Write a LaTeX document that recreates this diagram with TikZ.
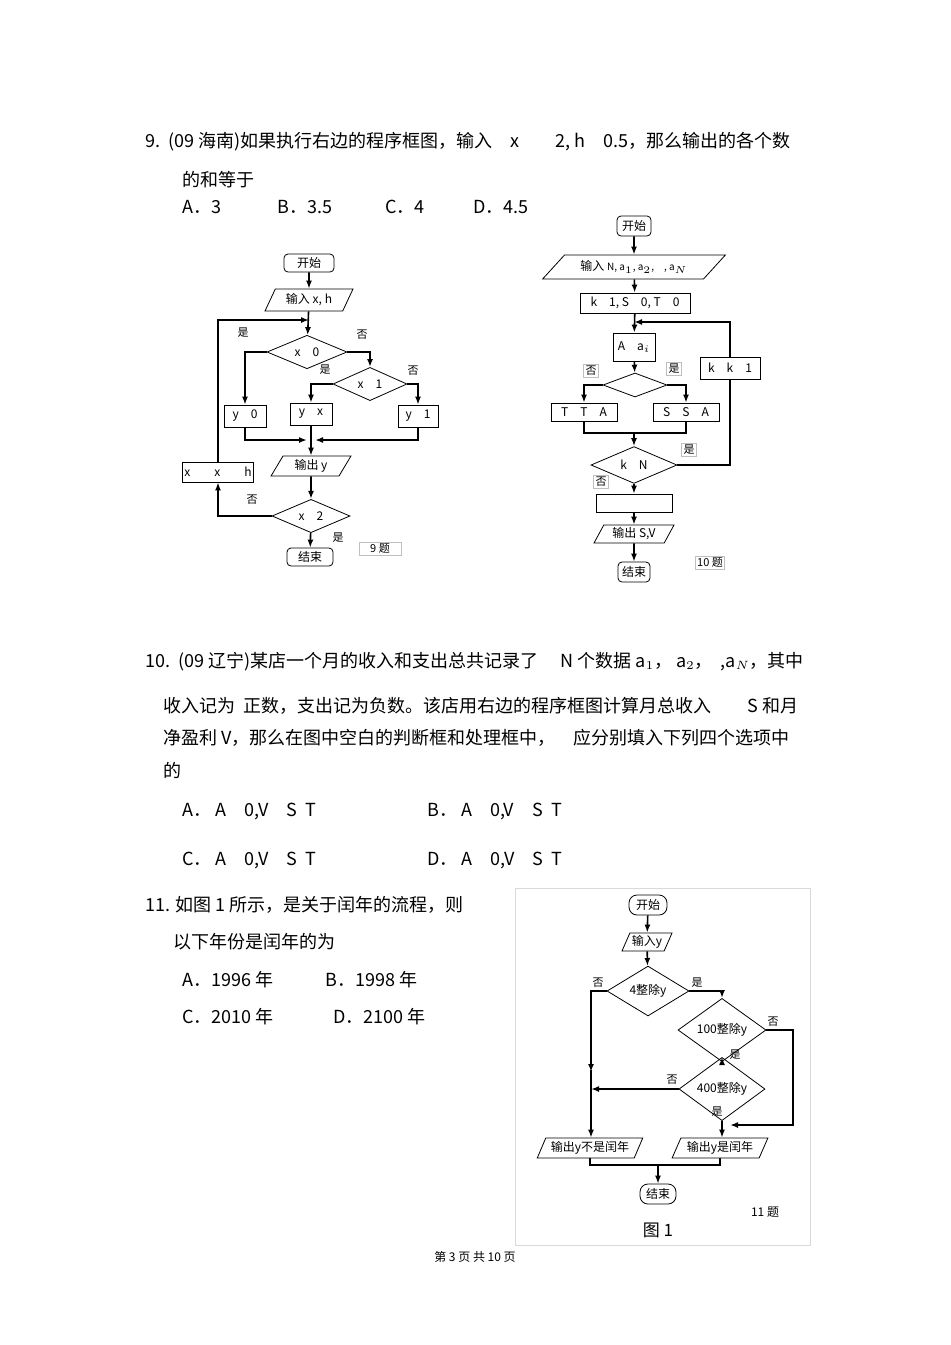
\documentclass[tikz,border=0pt]{standalone}
\usepackage{fontspec}
\setmainfont{Noto Sans CJK SC}
\usetikzlibrary{shapes.geometric,arrows.meta}
\begin{document}
\begin{tikzpicture}[x=0.5pt,y=-0.5pt,
  txt/.style={anchor=west,inner sep=0,font=\fontsize{9}{10}\selectfont},
  fc/.style={font=\fontsize{6}{7}\selectfont,inner sep=1pt},
  term/.style={fc,draw,rounded corners=2pt,minimum height=9pt},
  proc/.style={fc,draw,minimum height=10pt},
  io/.style={fc,draw,trapezium,trapezium left angle=65,trapezium right angle=115,trapezium stretches=true,minimum height=10pt},
  dec/.style={fc,draw,diamond,inner sep=0pt},
  lab/.style={font=\fontsize{5.5}{6}\selectfont,inner sep=1pt},
  labbox/.style={lab,draw=black!25},
  line/.style={thick},
  arr/.style={thick,-{Latex[length=4pt,width=3pt]}}]
\useasboundingbox (0,0) rectangle (950,1345);
\fill[white] (0,0) rectangle (950,1345);
% ---------- Q9 text
\node[txt] (q9a) at (145,142) {9.\ \ (09 海南)如果执行右边的程序框图，输入\quad x\qquad 2, h\quad 0.5，那么输出的各个数};
\node[txt] (q9b) at (182,180) {的和等于};
\node[txt] (q9A) at (182,207) {A．3};
\node[txt] (q9B) at (277,207) {B．3.5};
\node[txt] (q9C) at (385,207) {C．4};
\node[txt] (q9D) at (473,207) {D．4.5};
% ---------- Flowchart 9
\node[term,minimum width=25pt] (s9) at (309,263) {开始};
\node[io,minimum width=44pt,minimum height=11pt] (in9) at (309,300) {输入 x, h};
\coordinate (m9) at (309,320);
\node[dec,minimum width=40pt,minimum height=16pt] (d1) at (307,352) {x\quad 0};
\node[dec,minimum width=37pt,minimum height=15pt] (d2) at (370,384) {x\quad 1};
\node[proc,minimum width=21pt,minimum height=11pt] (y0) at (245,416) {y\quad 0};
\node[proc,minimum width=21pt,minimum height=11pt] (yx) at (311,414) {y\quad x};
\node[proc,minimum width=20pt,minimum height=11pt] (y1) at (418,416) {y\quad 1};
\coordinate (j9) at (311,440);
\node[io,minimum width=40pt] (out9) at (311,466) {输出 y};
\node[dec,minimum width=39pt,minimum height=16pt] (d3) at (311,516) {x\quad 2};
\node[proc,minimum width=31pt,minimum height=10pt] (xh) at (218,472) {x\qquad x\qquad h};
\node[term,minimum width=23pt] (e9) at (310,557) {结束};
\node[labbox,minimum width=21pt] (t9) at (380,549) {9 题};
\draw[arr] (s9) -- (in9);
\draw[arr] (in9) -- (d1);
\draw[arr] (d1.west) -| (y0);
\draw[arr] (d1.east) -| (d2.north);
\draw[arr] (d2.west) -| (yx);
\draw[arr] (d2.east) -| (y1);
\draw[arr] (y0.south) |- ([xshift=-2]j9);
\draw[arr] (y1.south) |- ([xshift=2]j9);
\draw[arr] (yx) -- (out9);
\draw[arr] (out9) -- (d3);
\draw[arr] (d3.west) -| (xh.south);
\draw[arr] (xh.north) |- (m9);
\draw[arr] (d3) -- (e9);
\node[lab] (l1) at (243,333) {是};
\node[lab] (l2) at (362,335) {否};
\node[lab] (l3) at (325,370) {是};
\node[lab] (l4) at (413,371) {否};
\node[lab] (l5) at (252,500) {否};
\node[lab] (l6) at (338,538) {是};
% ---------- Flowchart 10
\node[term,minimum width=17pt,minimum height=10pt] (s10) at (634,226) {开始};
\node[io,minimum width=92pt,minimum height=12pt,trapezium left angle=45,trapezium right angle=135] (in10) at (634,267) {输入 {\fontsize{5}{6}\selectfont N, a$_{1}$, a$_{2}$,\quad , a$_{N}$}};
\node[proc,minimum width=55pt] (ini) at (635,303) {k\quad 1, S\quad 0, T\quad 0};
\node[proc,minimum width=21pt,minimum height=14pt] (aa) at (634,347) {A\quad a$_{i}$};
\node[proc,minimum width=30pt,minimum height=11pt] (kk) at (730,368) {k\quad k\quad 1};
\node[dec,minimum width=32pt,minimum height=12pt] (d4) at (635,385) {};
\node[proc,minimum width=33pt,minimum height=9pt] (tt) at (584,412) {T\quad T\quad A};
\node[proc,minimum width=33pt,minimum height=9pt] (ss) at (686,412) {S\quad S\quad A};
\coordinate (j10) at (634,433);
\node[dec,minimum width=43pt,minimum height=15pt] (d5) at (634,465) {k\quad N};
\node[proc,minimum width=38pt,minimum height=9pt] (blank) at (634,503) {};
\node[io,minimum width=40pt,minimum height=9pt] (out10) at (634,534) {输出 S,V};
\node[term,minimum width=16pt,minimum height=10pt] (e10) at (634,572) {结束};
\node[labbox] (t10) at (710,563) {10 题};
\draw[arr] (s10) -- (in10);
\draw[arr] (in10) -- (ini);
\draw[arr] (ini) -- (aa);
\draw[arr] (aa) -- (d4);
\draw[arr] (d4.west) -| (tt);
\draw[arr] (d4.east) -| (ss);
\draw[line] (tt.south) |- (j10);
\draw[line] (ss.south) |- (j10);
\draw[arr] (j10) -- (d5);
\draw[line] (d5.east) -| (kk.south);
\draw[arr] (kk.north) |- (634,322);
\draw[arr] (d5) -- (blank);
\draw[arr] (blank) -- (out10);
\draw[arr] (out10) -- (e10);
\node[labbox] (l7) at (591,371) {否};
\node[labbox] (l8) at (674,369) {是};
\node[labbox] (l9) at (689,450) {是};
\node[labbox] (l10) at (601,482) {否};
% ---------- Q10 text
\node[txt] (q10a) at (145,662) {10.\ \ (09 辽宁)某店一个月的收入和支出总共记录了\quad\ N 个数据 a$_1$， a$_2$，\ \ ,a$_N$，其中};
\node[txt] (q10b) at (163,706) {收入记为\ \ 正数，支出记为负数。该店用右边的程序框图计算月总收入\qquad S 和月};
\node[txt] (q10c) at (163,738) {净盈利 V，那么在图中空白的判断框和处理框中，\quad 应分别填入下列四个选项中};
\node[txt] (q10d) at (163,770) {的};
\node[txt] (q10A) at (182,811) {A．\ A\quad 0,V\quad S\ \ T};
\node[txt] (q10B) at (427,811) {B．\ A\quad 0,V\quad S\ \ T};
\node[txt] (q10C) at (182,860) {C．\ A\quad 0,V\quad S\ \ T};
\node[txt] (q10D) at (427,860) {D．\ A\quad 0,V\quad S\ \ T};
% ---------- Q11 text
\node[txt] (q11a) at (145,905) {11. 如图 1 所示，是关于闰年的流程，则};
\node[txt] (q11b) at (173,942) {以下年份是闰年的为};
\node[txt] (q11A) at (182,980) {A．1996 年};
\node[txt] (q11B) at (325,980) {B．1998 年};
\node[txt] (q11C) at (182,1017) {C．2010 年};
\node[txt] (q11D) at (333,1017) {D．2100 年};
% ---------- Flowchart 11
\draw[black!15] (515,888) rectangle (810,1245);
\begin{scope}[every node/.append style={font=\fontsize{6}{7}\selectfont\bfseries}]
\node[term,minimum width=19pt,minimum height=10pt,rounded corners=4pt] (s11) at (648,905) {开始};
\node[io,minimum width=24pt,minimum height=9pt] (in11) at (647,942) {输入y};
\node[dec,minimum width=41pt,minimum height=16pt] (e1) at (648,991) {4整除y};
\node[dec,minimum width=44pt,minimum height=18pt] (e2) at (722,1030) {100整除y};
\node[dec,minimum width=43pt,minimum height=18pt] (e3) at (722,1089) {400整除y};
\node[io,minimum width=53pt,minimum height=10pt] (o1) at (590,1148) {输出y不是闰年};
\node[io,minimum width=48pt,minimum height=10pt] (o2) at (720,1148) {输出y是闰年};
\node[term,minimum width=18pt,minimum height=10pt,rounded corners=4pt] (e11) at (658,1194) {结束};
\end{scope}
\coordinate (c1) at (591,1089);
\coordinate (c2) at (722,1125);
\coordinate (j11) at (658,1165);
\draw[arr] (s11) -- (in11);
\draw[arr] (in11) -- (e1);
\draw[arr] (e1.west) -| (591,1072);
\draw[arr] (591,1070) -- (o1.north -| 591,0);
\draw[arr] (e1.east) -| (e2.north);
\draw[arr] (e2.south) -- (e3.north);
\draw[arr] (e3.west) -- (c1);
\draw[arr] (e3.south) -- (o2.north -| e3.south);
\draw[arr] (e2.east) -| (793,1125) -- ([xshift=4]c2);
\draw[line] (o1.south) |- (j11);
\draw[line] (o2.south) |- (j11);
\draw[arr] (j11) -- (e11);
\node[lab] (l11) at (598,983) {否};
\node[lab] (l12) at (697,983) {是};
\node[lab] (l13) at (773,1022) {否};
\node[lab] (l14) at (735,1055) {是};
\node[lab] (l15) at (672,1080) {否};
\node[lab] (l16) at (717,1112) {是};
\node[lab,font=\fontsize{6}{7}\selectfont] (t11) at (765,1212) {11 题};
\node[font=\fontsize{8.5}{9}\selectfont] (fig1) at (658,1230) {图 1};
% footer
\node[font=\fontsize{6}{7}\selectfont] (foot) at (475,1257) {第 3 页 共 10 页};
\end{tikzpicture}
\end{document}
